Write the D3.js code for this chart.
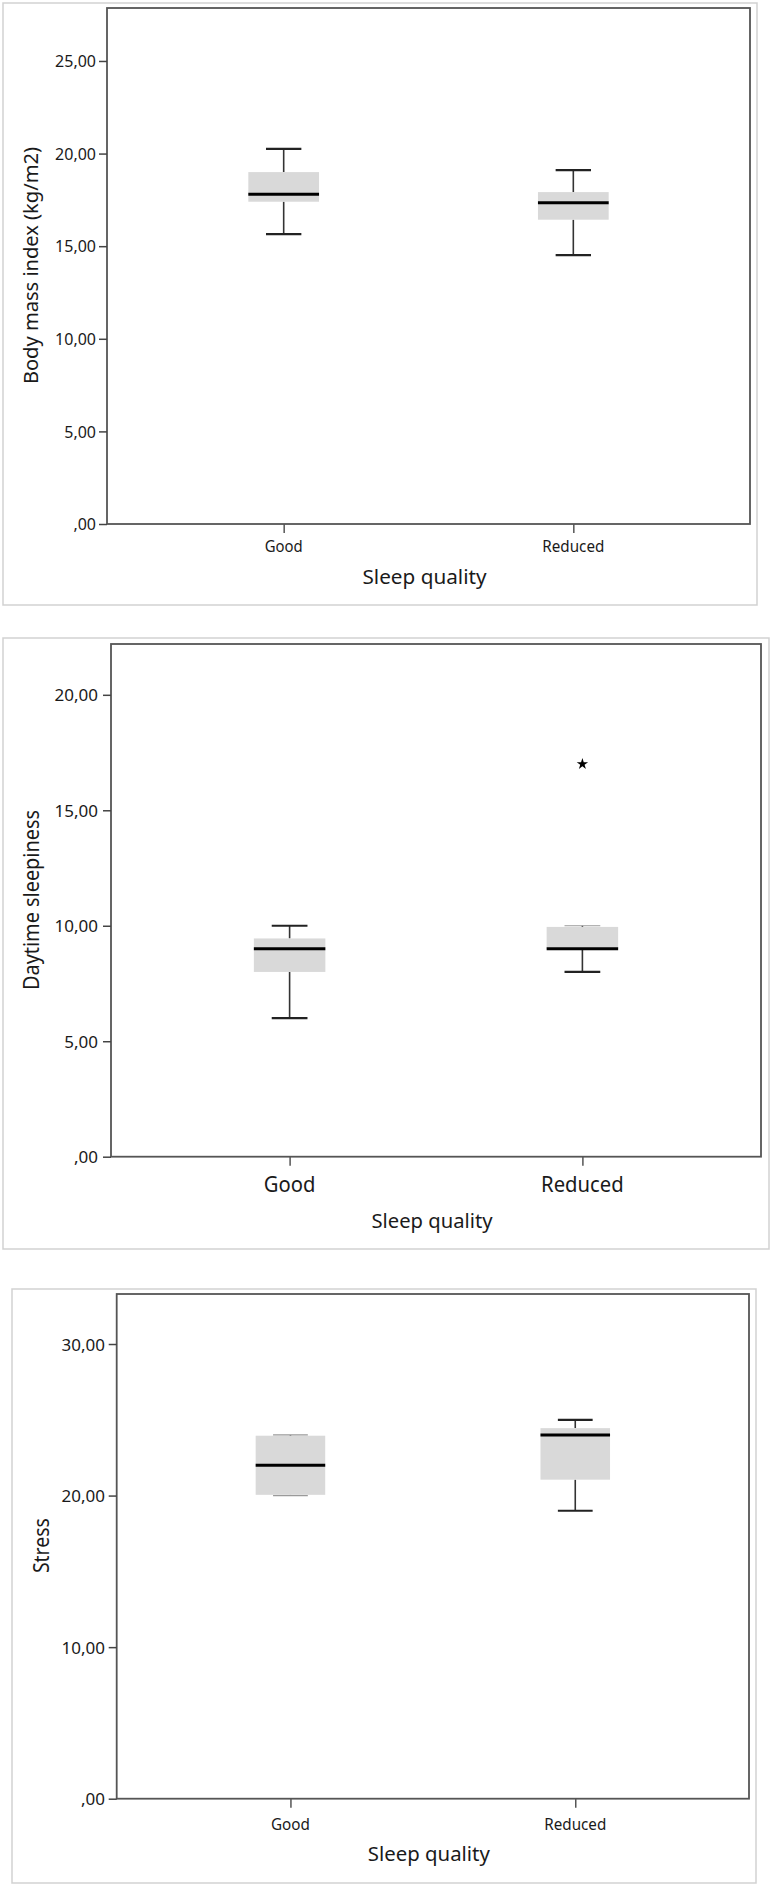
<!DOCTYPE html>
<html>
<head>
<meta charset="utf-8">
<script src="https://cdn.jsdelivr.net/npm/d3@7"></script>
<style>
  html, body { margin: 0; padding: 0; background: #fff; }
  svg { display: block; }
  text { font-family: "Noto Sans", "Open Sans", sans-serif; fill: #1a1a1a; }
</style>
</head>
<body>
<svg id="chart" width="771" height="1890"></svg>
<script>
// ---------------- data ----------------
const categories = ["Good", "Reduced"];

const bmiMin    = [15.65, 14.52];
const bmiQ1     = [17.40, 16.43];
const bmiMedian = [17.80, 17.35];
const bmiQ3     = [19.00, 17.92];
const bmiMax    = [20.25, 19.11];
const bmiTicks  = [0, 5, 10, 15, 20, 25];

const sleepMin    = [6, 8];
const sleepQ1     = [8.0, 9.0];
const sleepMedian = [9, 9];
const sleepQ3     = [9.45, 9.95];
const sleepMax    = [10, 10];
const sleepOutlierCats = ["Reduced"];
const sleepOutlierVals = [17];
const sleepTicks  = [0, 5, 10, 15, 20];

const stressMin    = [20, 19];
const stressQ1     = [20.05, 21.05];
const stressMedian = [22, 24];
const stressQ3     = [23.95, 24.45];
const stressMax    = [24, 25];
const stressTicks  = [0, 10, 20, 30];

const yTitles = ["Body mass index (kg/m2)", "Daytime sleepiness", "Stress"];
const xTitle = "Sleep quality";

// ---------------- layout ----------------
const panels = [
  { title: yTitles[0], min: bmiMin, q1: bmiQ1, med: bmiMedian, q3: bmiQ3, max: bmiMax, ticks: bmiTicks,
    outCats: [], outVals: [], yMax: 27.86,
    outer: [3, 3, 757, 605], l: 107, r: 750, t: 8, b: 524,
    tickFont: 16, tickEnd: 96, catFont: 16, catW: [38, 62], catBase: 551.5,
    xtBase: 583.5, xtW: 124, xtSize: 20, ytCenter: 265.6, ytBase: 38, ytSize: 20, ytW: 237 },
  { title: yTitles[1], min: sleepMin, q1: sleepQ1, med: sleepMedian, q3: sleepQ3, max: sleepMax, ticks: sleepTicks,
    outCats: sleepOutlierCats, outVals: sleepOutlierVals, yMax: 22.2,
    outer: [3, 638, 769, 1249], l: 111, r: 761, t: 644, b: 1156.7,
    tickFont: 17, tickEnd: 98, catFont: 21, catW: [51.6, 82.6], catBase: 1192,
    xtBase: 1228, xtW: 121, xtSize: 20, ytCenter: 900, ytBase: 38.5, ytSize: 21, ytW: 180 },
  { title: yTitles[2], min: stressMin, q1: stressQ1, med: stressMedian, q3: stressQ3, max: stressMax, ticks: stressTicks,
    outCats: [], outVals: [], yMax: 33.3,
    outer: [12, 1289, 756, 1883], l: 116.7, r: 749, t: 1294, b: 1798.7,
    tickFont: 17, tickEnd: 105, catFont: 16, catW: [39, 62], catBase: 1829.5,
    xtBase: 1861, xtW: 122, xtSize: 20, ytCenter: 1545.6, ytBase: 48.5, ytSize: 21, ytW: 55 }
];

const fmt = d => d === 0 ? ",00" : d.toFixed(2).replace(".", ",");

const svg = d3.select("#chart");
svg.append("rect").attr("width", 771).attr("height", 1890).attr("fill", "#fff");

panels.forEach(p => {
  const g = svg.append("g");
  // outer light border
  g.append("rect")
    .attr("x", p.outer[0]).attr("y", p.outer[1])
    .attr("width", p.outer[2] - p.outer[0]).attr("height", p.outer[3] - p.outer[1])
    .attr("fill", "none").attr("stroke", "#d2d2d2").attr("stroke-width", 1.5);

  const x = d3.scalePoint().domain(categories).range([p.l, p.r]).padding(0.61);
  const y = d3.scaleLinear().domain([0, p.yMax]).range([p.b, p.t]);
  const bw = 0.11 * (p.r - p.l);
  const cw = bw / 2;

  // plot frame
  g.append("rect")
    .attr("x", p.l).attr("y", p.t).attr("width", p.r - p.l).attr("height", p.b - p.t)
    .attr("fill", "#fff").attr("stroke", "#555").attr("stroke-width", 1.8);

  // y axis ticks
  const yAxis = d3.axisLeft(y).tickValues(p.ticks).tickSize(8).tickSizeOuter(0).tickFormat(fmt);
  const ya = g.append("g").attr("transform", `translate(${p.l},0)`).call(yAxis);
  ya.select(".domain").remove();
  ya.selectAll(".tick line").attr("stroke", "#444").attr("stroke-width", 1.5);
  ya.selectAll(".tick text")
    .attr("x", p.tickEnd - p.l).attr("dy", "0.36em")
    .style("font-size", p.tickFont + "px").style("font-family", "'Noto Sans', sans-serif")
    .attr("fill", "#1a1a1a");

  // x axis ticks
  const xAxis = d3.axisBottom(x).tickSize(9).tickSizeOuter(0).tickFormat("");
  const xa = g.append("g").attr("transform", `translate(0,${p.b})`).call(xAxis);
  xa.select(".domain").remove();
  xa.selectAll(".tick line").attr("stroke", "#555").attr("stroke-width", 1.5);

  // category labels
  categories.forEach((c, i) => {
    g.append("text").attr("x", x(c)).attr("y", p.catBase)
      .attr("text-anchor", "middle").style("font-size", p.catFont + "px")
      .attr("textLength", p.catW[i]).attr("lengthAdjust", "spacingAndGlyphs")
      .text(c);
  });

  // x title
  g.append("text").attr("x", (p.l + p.r) / 2 - 4).attr("y", p.xtBase)
    .attr("text-anchor", "middle").style("font-size", p.xtSize + "px")
    .attr("textLength", p.xtW).attr("lengthAdjust", "spacingAndGlyphs")
    .text(xTitle);

  // y title
  g.append("text")
    .attr("transform", `translate(${p.ytBase},${p.ytCenter}) rotate(-90)`)
    .attr("text-anchor", "middle").style("font-size", p.ytSize + "px")
    .attr("textLength", p.ytW).attr("lengthAdjust", "spacingAndGlyphs")
    .text(p.title);

  // boxes
  categories.forEach((c, i) => {
    const cx = x(c);
    const vMin = p.min[i], vQ1 = p.q1[i], vMed = p.med[i], vQ3 = p.q3[i], vMax = p.max[i];
    // whiskers
    g.append("line").attr("x1", cx).attr("x2", cx).attr("y1", y(vQ3)).attr("y2", y(vMax))
      .attr("stroke", "#333").attr("stroke-width", 1.6);
    g.append("line").attr("x1", cx).attr("x2", cx).attr("y1", y(vQ1)).attr("y2", y(vMin))
      .attr("stroke", "#333").attr("stroke-width", 1.6);
    // box
    g.append("rect").attr("x", cx - bw / 2).attr("width", bw)
      .attr("y", y(vQ3)).attr("height", Math.max(1, y(vQ1) - y(vQ3)))
      .attr("fill", "#d9d9d9");
    // caps
    const capStyle = (v, edge) => Math.abs(y(v) - y(edge)) < 3
      ? { c: "#9a9a9a", w: 1.2 } : { c: "#222", w: 2.2 };
    [[vMax, vQ3], [vMin, vQ1]].forEach(([v, e]) => {
      const s = capStyle(v, e);
      g.append("line").attr("x1", cx - cw / 2).attr("x2", cx + cw / 2)
        .attr("y1", y(v)).attr("y2", y(v))
        .attr("stroke", s.c).attr("stroke-width", s.w);
    });
    // median
    g.append("line").attr("x1", cx - bw / 2).attr("x2", cx + bw / 2)
      .attr("y1", y(vMed)).attr("y2", y(vMed))
      .attr("stroke", "#000").attr("stroke-width", 3);
  });

  // outliers
  p.outCats.forEach((c, i) => {
    g.append("path")
      .attr("d", d3.symbol().type(d3.symbolStar).size(40)())
      .attr("transform", `translate(${x(c)},${y(p.outVals[i])})`)
      .attr("fill", "#000");
  });
});
</script>
</body>
</html>
